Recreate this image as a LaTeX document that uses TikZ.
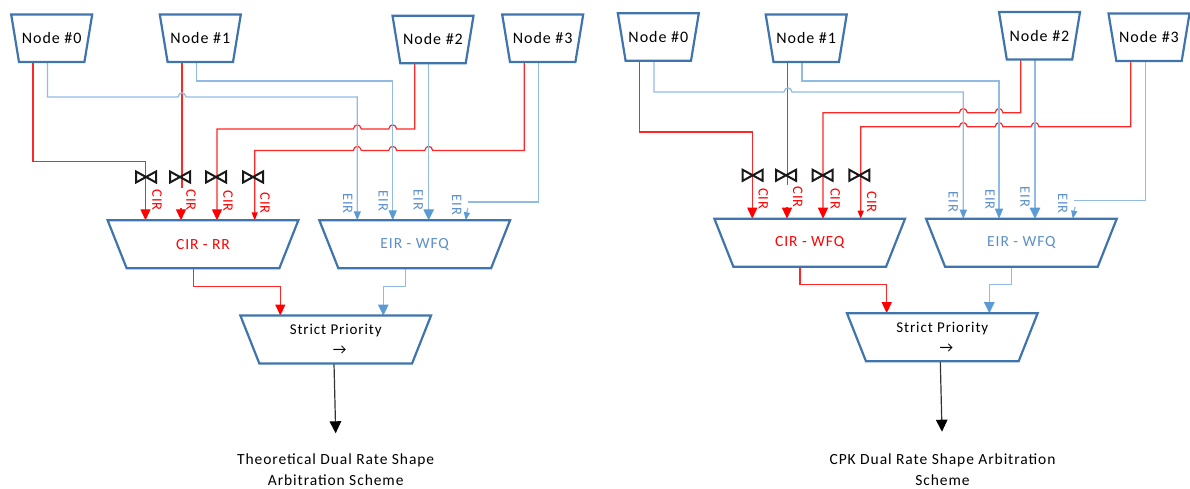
\documentclass[tikz,border=0pt]{standalone}
\usepackage{fontspec}
\setmainfont{Carlito}[LetterSpace=6]
\usetikzlibrary{arrows.meta,backgrounds}
\definecolor{boxblue}{HTML}{3F74AC}
\definecolor{eirline}{HTML}{92BBE3}
\definecolor{eirtext}{HTML}{5B8FC9}
\definecolor{eirhead}{HTML}{5B9BD5}
\newcommand{\hopL}[2]{-- ({#1+4},#2) .. controls ({#1+3},{#2-5.5}) and ({#1-3},{#2-5.5}) .. ({#1-4},#2)}
\newcommand{\hopR}[2]{-- ({#1-4},#2) .. controls ({#1-3},{#2-5.5}) and ({#1+3},{#2-5.5}) .. ({#1+4},#2)}
\tikzset{
  trapline/.style={draw=boxblue,line width=2.2pt,line join=miter},
  trapbase/.style={inner sep=0pt,outer sep=0pt,align=center,
    append after command={\pgfextra{\let\mynode\tikzlastnode
      \draw[trapline] (\mynode.north west) -- (\mynode.north east)
        -- ([xshift=-#1]\mynode.south east) -- ([xshift=#1]\mynode.south west) -- cycle;}}},
  srcbox/.style={trapbase=7.8pt,minimum width=81pt,minimum height=47.5pt,font=\fontsize{16}{18}\selectfont},
  muxbox/.style={trapbase=19pt,minimum width=190.7pt,minimum height=48pt,font=\fontsize{15.5}{18}\selectfont},
  prio/.style={muxbox,font=\fontsize{15}{20}\selectfont},
  redline/.style={draw=red!85!white,line width=1.2pt,line join=miter},
  blueline/.style={draw=eirline,line width=1.3pt,line join=miter},
  redbig/.style={redline,-{Triangle[length=11pt,width=10pt,color=red]}},
  redsmall/.style={redline,-{Triangle[length=8pt,width=6pt,color=red]}},
  blue7/.style={blueline,-{Triangle[length=9pt,width=7pt,color=eirhead]}},
  blue8/.style={blueline,-{Triangle[length=10pt,width=8pt,color=eirhead]}},
  blue10/.style={blueline,-{Triangle[length=11pt,width=10.5pt,color=eirhead]}},
  blue6/.style={blueline,-{Triangle[length=8pt,width=6pt,color=eirhead]}},
  blackout/.style={draw=black!80,line width=1.2pt,-{Triangle[length=12pt,width=11.5pt,color=black]}},
  cirlab/.style={rotate=-90,text=red,inner sep=0pt,font=\fontsize{14.5}{14}\selectfont},
  eirlab/.style={rotate=-90,text=eirtext,inner sep=0pt,font=\fontsize{14.5}{14}\selectfont},
  caption/.style={align=center,font=\fontsize{15.5}{21}\selectfont},
  valve/.style={draw=black!90,line width=2pt,line join=miter,fill=none}
}
\newcommand{\valveat}[2]{\draw[valve] ({#1-10},{#2-5.5}) -- ({#1+10},{#2+5.5}) -- ({#1+10},{#2-5.5}) -- ({#1-10},{#2+5.5}) -- cycle;}
\begin{document}
\begin{tikzpicture}[x=1pt,y=-1pt]
\useasboundingbox (0,0) rectangle (1190,489);
% ---- left scheme
\node[srcbox] (a0) at (51.7,38.3) {Node \#0};
\node[srcbox] (a1) at (200.3,38.3) {Node \#1};
\node[srcbox] (a2) at (433,39.5) {Node \#2};
\node[srcbox] (a3) at (542.7,38.3) {Node \#3};
\node[muxbox] (acir) at (203,244.3) {\textcolor{red}{CIR - RR}};
\node[muxbox] (aeir) at (414.7,244.3) {\textcolor{eirtext}{EIR - WFQ}};
\node[prio] (aprio) at (335.7,339.5) {Strict Priority\\\hspace*{8pt}→};
\node[caption] (acap) at (335.7,469.5) {Theoretical Dual Rate Shape\\Arbitration Scheme};
\begin{pgfonlayer}{background}
\draw[redbig] (33,0 |- a0.south) -- (33,161.5) -- (145.5,161.5) -- (145.5,0 |- acir.north);
\draw[redline] (182,0 |- a1.south) -- (182,188);
\draw[redbig] (181,208) -- (181,0 |- acir.north);
\draw[redbig] (414.7,0 |- a2.south) -- (414.7,129) \hopL{392.7}{129} \hopL{357.3}{129} -- (217,129) -- (217,0 |- acir.north);
\draw[redsmall] (524.3,0 |- a3.south) -- (524.3,150.5) \hopL{428.7}{150.5} \hopL{392.7}{150.5} \hopL{357.3}{150.5} -- (254.7,150.5) -- (254.7,0 |- acir.north);
\draw[blue7] (47.5,0 |- a0.south) -- (47.5,97) \hopR{182}{97} -- (357.3,97) -- (357.3,0 |- aeir.north);
\draw[blue8] (196.3,0 |- a1.south) -- (196.3,81) -- (392.7,81) -- (392.7,0 |- aeir.north);
\draw[blue10] (428.7,0 |- a2.south) -- (428.7,0 |- aeir.north);
\draw[blueline] (538.7,0 |- a3.south) -- (538.7,202) -- (468.3,202);
\draw[blue6] (467.7,208) -- (465.7,0 |- aeir.north);
\draw[redbig] (193.3,0 |- acir.south) -- (193.3,286.7) -- (280.3,286.7) -- (280.3,0 |- aprio.north);
\draw[blue10] (405.7,0 |- aeir.south) -- (405.7,286.7) -- (383.3,286.7) -- (383.3,0 |- aprio.north);
\draw[blackout] (334,0 |- aprio.south) -- (335.7,433.3);
\end{pgfonlayer}
\valveat{146}{177}\valveat{180}{177}\valveat{216}{177}\valveat{253}{177}
\node[cirlab] (ac0) at (157,200) {CIR};
\node[cirlab] (ac1) at (191,200) {CIR};
\node[cirlab] (ac2) at (228,201) {CIR};
\node[cirlab] (ac3) at (265,203.3) {CIR};
\node[eirlab] (ae0) at (347.7,203.3) {EIR};
\node[eirlab] (ae1) at (383.3,201) {EIR};
\node[eirlab] (ae2) at (418.3,200) {EIR};
\node[eirlab] (ae3) at (456.7,205) {EIR};
% ---- right scheme
\node[srcbox] (b0) at (658.3,37) {Node \#0};
\node[srcbox] (b1) at (806.2,38.3) {Node \#1};
\node[srcbox] (b2) at (1039.5,35.8) {Node \#2};
\node[srcbox] (b3) at (1149,37.2) {Node \#3};
\node[muxbox] (bcir) at (809.7,242.7) {\textcolor{red}{CIR - WFQ}};
\node[muxbox] (beir) at (1021.4,242.7) {\textcolor{eirtext}{EIR - WFQ}};
\node[prio] (bprio) at (942.3,337.2) {Strict Priority\\\hspace*{8pt}→};
\node[caption] (bcap) at (942.5,469.5) {CPK Dual Rate Shape Arbitration\\Scheme};
\begin{pgfonlayer}{background}
\draw[redbig] (639.7,0 |- b0.south) -- (639.7,132) -- (752.3,132) -- (752.3,0 |- bcir.north);
\draw[redline] (787.7,0 |- b1.south) -- (787.7,185);
\draw[redbig] (787,207) -- (787,0 |- bcir.north);
\draw[redbig] (1020.7,0 |- b2.south) -- (1020.7,112.7) \hopL{999}{112.7} \hopL{963.3}{112.7} -- (823,112.7) -- (823,0 |- bcir.north);
\draw[redsmall] (1130.7,0 |- b3.south) -- (1130.7,126.7) \hopL{1035}{126.7} \hopL{999}{126.7} \hopL{963.3}{126.7} -- (860.7,126.7) -- (860.7,0 |- bcir.north);
\draw[blue7] (654,0 |- b0.south) -- (654,92) \hopR{788}{92} -- (963.3,92) -- (963.3,0 |- beir.north);
\draw[blue8] (802,0 |- b1.south) -- (802,81) -- (999,81) -- (999,0 |- beir.north);
\draw[blue10] (1035,0 |- b2.south) -- (1035,0 |- beir.north);
\draw[blueline] (1145.3,0 |- b3.south) -- (1145.3,200.7) -- (1074.3,200.7);
\draw[blue6] (1075,207) -- (1072.7,0 |- beir.north);
\draw[redbig] (800,0 |- bcir.south) -- (800,284.3) -- (886.7,284.3) -- (886.7,0 |- bprio.north);
\draw[blue10] (1011.7,0 |- beir.south) -- (1011.7,284.3) -- (989.3,284.3) -- (989.3,0 |- bprio.north);
\draw[blackout] (940.3,0 |- bprio.south) -- (942,431.7);
\end{pgfonlayer}
\valveat{752.7}{175.3}\valveat{786}{175.3}\valveat{822.7}{175.3}\valveat{859.3}{175.3}
\node[cirlab] (bc0) at (763.3,198.7) {CIR};
\node[cirlab] (bc1) at (797.7,197) {CIR};
\node[cirlab] (bc2) at (835.3,198.7) {CIR};
\node[cirlab] (bc3) at (871.7,202.3) {CIR};
\node[eirlab] (be0) at (953.3,202) {EIR};
\node[eirlab] (be1) at (990,199.3) {EIR};
\node[eirlab] (be2) at (1025,197) {EIR};
\node[eirlab] (be3) at (1062.7,203.3) {EIR};
\end{tikzpicture}
\end{document}
